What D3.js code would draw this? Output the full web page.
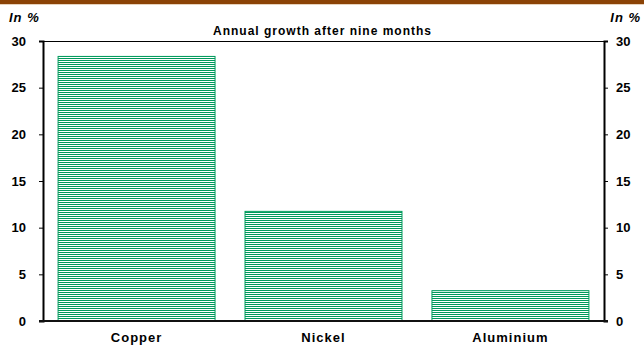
<!DOCTYPE html>
<html><head><meta charset="utf-8">
<script src="https://cdn.jsdelivr.net/npm/d3@7"></script>
<style>html,body{margin:0;padding:0;background:#fff;}svg{display:block;}</style>
</head><body>
<script>
const categories = ["Copper", "Nickel", "Aluminium"];
const values = [28.4, 11.8, 3.3];
const yTicks = [0, 5, 10, 15, 20, 25, 30];
const title = "Annual growth after nine months";
const unitLabel = "In %";

const W = 644, H = 346;
const m = {left: 43, right: 40, top: 41, bottom: 25};
const svg = d3.select("body").append("svg").attr("width", W).attr("height", H)
  .style("font-family", "'Liberation Sans', Arial, sans-serif");

svg.append("rect").attr("x",0).attr("y",0).attr("width",W).attr("height",4).attr("fill","#8B4306");
svg.append("rect").attr("x",0).attr("y",4).attr("width",W).attr("height",1).attr("fill","#E6D2BC");

const x = d3.scaleBand().domain(categories).range([m.left, W - m.right]).paddingInner(0.155).paddingOuter(0.078);
const y = d3.scaleLinear().domain([0, 30]).range([H - m.bottom, m.top]);

const defs = svg.append("defs");
const pat = defs.append("pattern").attr("id","hatch").attr("patternUnits","userSpaceOnUse")
  .attr("width",4).attr("height",2);
pat.append("rect").attr("width",4).attr("height",2).attr("fill","#fff");
pat.append("rect").attr("width",4).attr("height",1).attr("fill","#009A5C");

svg.selectAll("rect.bar").data(values).join("rect").attr("class","bar")
  .attr("x",(d,i)=>x(categories[i])+0.5)
  .attr("y",d=>y(d)+0.5)
  .attr("width",x.bandwidth()-1)
  .attr("height",d=>y(0)-y(d)-0.5)
  .attr("fill","url(#hatch)")
  .attr("stroke","#009A5C").attr("stroke-width",1);

const x0 = m.left, x1 = W - m.right, yb = y(0), yt = y(30);
svg.append("line").attr("x1",x0).attr("x2",x1).attr("y1",yt+0.5).attr("y2",yt+0.5).attr("stroke","#000").attr("stroke-width",1);

const left = svg.append("g").attr("transform",`translate(${x0},0)`)
  .call(d3.axisLeft(y).tickValues(yTicks).tickSize(4).tickPadding(13).tickFormat(d3.format("d")));
const right = svg.append("g").attr("transform",`translate(${x1},0)`)
  .call(d3.axisRight(y).tickValues(yTicks).tickSize(4).tickPadding(8).tickFormat(d3.format("d")));
[left, right].forEach(g => {
  g.select(".domain").attr("stroke","#000").attr("stroke-width",2);
  g.selectAll(".tick line").attr("stroke","#000");
  g.selectAll(".tick text").attr("font-size",13).attr("font-weight","bold").attr("fill","#000")
    .attr("font-family","'Liberation Sans', Arial, sans-serif");
});
svg.append("line").attr("x1",x0-4).attr("x2",x1+4).attr("y1",yb).attr("y2",yb).attr("stroke","#111").attr("stroke-width",2);

const bottom = svg.append("g").attr("transform",`translate(0,${yb})`)
  .call(d3.axisBottom(x).tickSize(0).tickPadding(12));
bottom.select(".domain").remove();
bottom.selectAll(".tick text").attr("font-size",13).attr("font-weight","bold").attr("fill","#000")
  .attr("letter-spacing","1px").attr("font-family","'Liberation Sans', Arial, sans-serif");

svg.append("text").attr("x",(x0+x1)/2-1).attr("y",35).attr("text-anchor","middle")
  .attr("font-size",12).attr("font-weight","bold").attr("letter-spacing","1px").text(title);
svg.append("text").attr("x",9).attr("y",22).attr("font-size",13).attr("font-weight","bold")
  .attr("font-style","italic").attr("letter-spacing","1px").text(unitLabel);
svg.append("text").attr("x",641).attr("y",22).attr("text-anchor","end").attr("font-size",13).attr("font-weight","bold")
  .attr("font-style","italic").attr("letter-spacing","1px").text(unitLabel);
</script>
</body></html>
